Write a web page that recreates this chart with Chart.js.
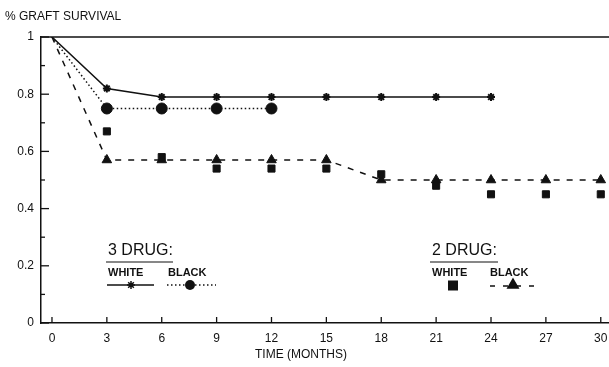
<!DOCTYPE html>
<html>
<head>
<meta charset="utf-8">
<script src="https://cdn.jsdelivr.net/npm/chart.js@4.4.1/dist/chart.umd.min.js"></script>
<style>
  html, body { margin: 0; padding: 0; background: #fff; }
  #wrap { width: 609px; height: 367px; }
</style>
</head>
<body>
<div id="wrap"><canvas id="c" width="609" height="367"></canvas></div>
<script>
// Graft survival by regimen and race, months after transplant
const months = [0, 3, 6, 9, 12, 15, 18, 21, 24, 27, 30];
const threeDrugWhite = [1.00, 0.82, 0.79, 0.79, 0.79, 0.79, 0.79, 0.79, 0.79, null, null];
const threeDrugBlack = [1.00, 0.75, 0.75, 0.75, 0.75, null, null, null, null, null, null];
const twoDrugWhite   = [null, 0.67, 0.58, 0.54, 0.54, 0.54, 0.52, 0.48, 0.45, 0.45, 0.45];
const twoDrugBlack   = [1.00, 0.57, 0.57, 0.57, 0.57, 0.57, 0.50, 0.50, 0.50, 0.50, 0.50];

const xTicks = [0, 3, 6, 9, 12, 15, 18, 21, 24, 27, 30];
const yTicks = [0, 0.2, 0.4, 0.6, 0.8, 1];
const yMinorTicks = [0.1, 0.3, 0.5, 0.7, 0.9];

const INK = '#111';
const FONT = '"Liberation Sans", Arial, sans-serif';

function pts(arr) {
  return months.map((m, i) => ({ x: m, y: arr[i] }));
}

// Axis decorations, titles and the two-group key
const decorations = {
  id: 'decorations',
  afterDraw(chart) {
    const ctx = chart.ctx;
    const x = chart.scales.x, y = chart.scales.y;
    const a = chart.chartArea;
    ctx.save();
    ctx.strokeStyle = INK;
    ctx.fillStyle = INK;

    // line across the top at 100%
    ctx.lineWidth = 1.5;
    const yTop = y.getPixelForValue(1);
    ctx.beginPath(); ctx.moveTo(a.left, yTop); ctx.lineTo(a.right, yTop); ctx.stroke();

    // inward tick marks
    ctx.lineWidth = 1.3;
    yTicks.forEach(v => {
      const py = y.getPixelForValue(v);
      ctx.beginPath(); ctx.moveTo(a.left, py); ctx.lineTo(a.left + 8, py); ctx.stroke();
    });
    yMinorTicks.forEach(v => {
      const py = y.getPixelForValue(v);
      ctx.beginPath(); ctx.moveTo(a.left, py); ctx.lineTo(a.left + 4, py); ctx.stroke();
    });
    xTicks.forEach(v => {
      const px = x.getPixelForValue(v);
      ctx.beginPath(); ctx.moveTo(px, a.bottom); ctx.lineTo(px, a.bottom - 6); ctx.stroke();
    });

    // titles
    ctx.textBaseline = 'alphabetic';
    ctx.textAlign = 'left';
    ctx.font = '12px ' + FONT;
    ctx.fillText('% GRAFT SURVIVAL', 5, 20);
    ctx.textAlign = 'center';
    ctx.fillText('TIME (MONTHS)', 301, 358);

    // key: 3 DRUG / 2 DRUG
    ctx.textAlign = 'left';
    ctx.font = '16px ' + FONT;
    ctx.fillText('3 DRUG:', 108, 255);
    ctx.fillText('2 DRUG:', 432, 255);
    ctx.lineWidth = 1.2;
    ctx.beginPath(); ctx.moveTo(106, 262); ctx.lineTo(173, 262); ctx.stroke();
    ctx.beginPath(); ctx.moveTo(430, 262); ctx.lineTo(498, 262); ctx.stroke();

    ctx.font = 'bold 11px ' + FONT;
    ctx.fillText('WHITE', 108, 276);
    ctx.fillText('BLACK', 168, 276);
    ctx.fillText('WHITE', 432, 276);
    ctx.fillText('BLACK', 490, 276);

    const ky = 285;
    // 3 drug white sample: solid with star
    ctx.lineWidth = 1.5;
    ctx.setLineDash([]);
    ctx.beginPath(); ctx.moveTo(107, ky); ctx.lineTo(154, ky); ctx.stroke();
    Chart.helpers.drawPoint(ctx, { pointStyle: 'star', radius: 4, borderWidth: 2 }, 131, ky);
    // 3 drug black sample: dotted with circle
    ctx.setLineDash([1.5, 2.5]);
    ctx.beginPath(); ctx.moveTo(167, ky); ctx.lineTo(216, ky); ctx.stroke();
    ctx.setLineDash([]);
    ctx.beginPath(); ctx.arc(190, ky, 5, 0, Math.PI * 2); ctx.fill();
    // 2 drug white sample: square
    ctx.fillRect(448, ky - 4.5, 10, 10);
    // 2 drug black sample: dashed with triangle
    ctx.setLineDash([5, 8]);
    ctx.beginPath(); ctx.moveTo(490, ky + 1); ctx.lineTo(536, ky + 1); ctx.stroke();
    ctx.setLineDash([]);
    Chart.helpers.drawPoint(ctx, { pointStyle: 'triangle', radius: 6, borderWidth: 1 }, 513, ky);

    ctx.restore();
  }
};

new Chart(document.getElementById('c'), {
  type: 'line',
  data: {
    datasets: [
      {
        label: '2 DRUG WHITE',
        data: pts(twoDrugWhite),
        showLine: false,
        pointStyle: 'rect',
        pointRadius: 5,
        backgroundColor: INK,
        borderColor: INK,
        borderWidth: 1,
        order: 0
      },
      {
        label: '2 DRUG BLACK',
        data: pts(twoDrugBlack),
        borderColor: INK,
        backgroundColor: INK,
        borderWidth: 1.5,
        borderDash: [6, 7],
        pointStyle: 'triangle',
        pointRadius: [0, 5.5, 5.5, 5.5, 5.5, 5.5, 5.5, 5.5, 5.5, 5.5, 5.5],
        pointBorderWidth: 1,
        tension: 0,
        order: 1
      },
      {
        label: '3 DRUG BLACK',
        data: pts(threeDrugBlack),
        borderColor: INK,
        backgroundColor: INK,
        borderWidth: 1.5,
        borderDash: [1.5, 2.5],
        pointStyle: 'circle',
        pointRadius: [0, 5.5, 5.5, 5.5, 5.5],
        pointBorderWidth: 1,
        tension: 0,
        order: 2
      },
      {
        label: '3 DRUG WHITE',
        data: pts(threeDrugWhite),
        borderColor: INK,
        backgroundColor: INK,
        borderWidth: 1.5,
        pointStyle: 'star',
        pointRadius: [0, 4, 4, 4, 4, 4, 4, 4, 4],
        pointBorderWidth: 2,
        tension: 0,
        order: 3
      }
    ]
  },
  options: {
    responsive: false,
    animation: false,
    devicePixelRatio: 1,
    layout: { autoPadding: false, padding: { top: 37, right: 0, left: 0, bottom: 0 } },
    plugins: {
      legend: { display: false },
      tooltip: { enabled: false },
      title: { display: false }
    },
    scales: {
      x: {
        type: 'linear',
        min: -0.6,
        max: 30.45,
        afterFit(s) { s.height = 44; s.paddingLeft = 0; s.paddingRight = 0; },
        afterBuildTicks(s) { s.ticks = xTicks.map(v => ({ value: v })); },
        grid: { display: false, drawTicks: false },
        border: { display: true, color: INK, width: 1.5 },
        ticks: {
          color: INK,
          padding: 8,
          maxRotation: 0,
          autoSkip: false,
          font: { family: FONT, size: 12 },
          callback: v => String(v)
        }
      },
      y: {
        type: 'linear',
        min: 0,
        max: 1,
        afterFit(s) { s.width = 41; s.paddingTop = 0; s.paddingBottom = 0; },
        afterBuildTicks(s) { s.ticks = yTicks.map(v => ({ value: v })); },
        grid: { display: false, drawTicks: false },
        border: { display: true, color: INK, width: 1.5 },
        ticks: {
          color: INK,
          padding: 7,
          font: { family: FONT, size: 12 },
          callback: v => (v === 0 || v === 1) ? String(v) : v.toFixed(1)
        }
      }
    }
  },
  plugins: [decorations]
});
</script>
</body>
</html>
